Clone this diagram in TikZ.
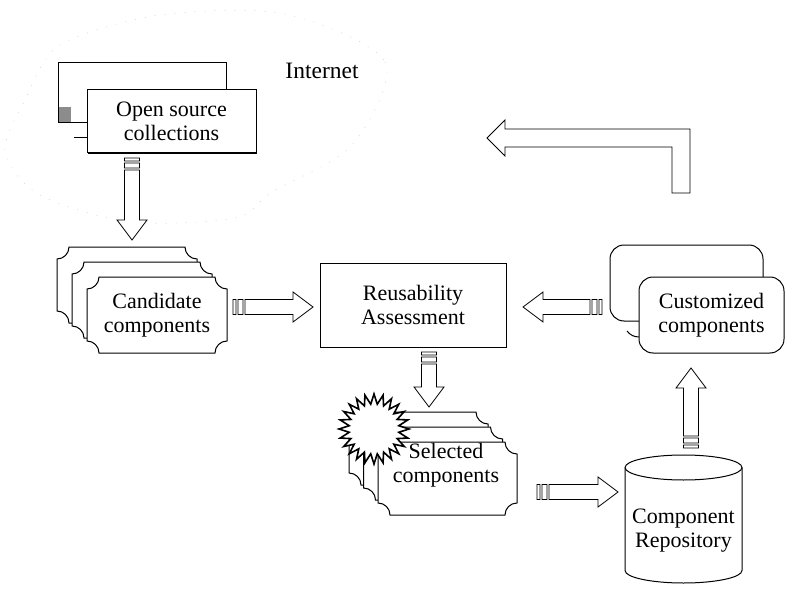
\documentclass[tikz,border=0pt]{standalone}
\usepackage{fontspec}
\setmainfont{Liberation Serif}
\usetikzlibrary{calc,shapes.geometric,shadows}

% outline with notched corners round a node
\newcommand\notch{12pt}
\newcommand\plaque[1]{%
  \draw[line width=1pt] ($(#1.north west)+(\notch,0)$) -- ($(#1.north east)+(-\notch,0)$)
    arc[start angle=180,end angle=270,radius=\notch] -- ($(#1.south east)+(0,\notch)$)
    arc[start angle=90,end angle=180,radius=\notch] -- ($(#1.south west)+(\notch,0)$)
    arc[start angle=0,end angle=90,radius=\notch] -- ($(#1.north west)+(0,-\notch)$)
    arc[start angle=-90,end angle=0,radius=\notch] -- cycle;}
% drum outline round a node
\newcommand\drum[1]{%
  \draw[fill=white,line width=1pt] ($(#1.north west)+(0,-12.5)$) -- ($(#1.south west)+(0,12.5)$)
    arc[start angle=180,end angle=360,x radius=58.5pt,y radius=12.5pt]
    -- ($(#1.north east)+(0,-12.5)$)
    arc[start angle=0,end angle=180,x radius=58.5pt,y radius=12.5pt] -- cycle;
  \draw[line width=1pt] ($(#1.north west)+(0,-12.5)$)
    arc[start angle=180,end angle=360,x radius=58.5pt,y radius=12.5pt];}

\begin{document}
\begin{tikzpicture}[x=1pt,y=1pt,
  every node/.style={font=\fontsize{22}{24}\selectfont,align=center,inner sep=0pt,outer sep=0pt},
  box/.style={draw,fill=white,line width=1pt,drop shadow={shadow xshift=0.6pt,shadow yshift=-1.2pt,opacity=1,fill=black}},
  card/.style={fill=white,minimum width=140,minimum height=76},
  rbox/.style={draw,fill=white,line width=1pt,rounded corners=14pt,minimum height=76},
  blockarrow/.style={draw,fill=white,line width=0.8pt,to path={
    let \p1=(\tikztostart),\p2=(\tikztotarget),
        \n1={atan2(\y2-\y1,\x2-\x1)},\n2={veclen(\x2-\x1,\y2-\y1)} in
    ($(\p1)+(\n1+90:7.5)$) rectangle ($(\p1)+(\n1:3)+(\n1-90:7.5)$)
    ($(\p1)+(\n1:5)+(\n1+90:7.5)$) rectangle ($(\p1)+(\n1:10)+(\n1-90:7.5)$)
    ($(\p1)+(\n1:12)+(\n1+90:7.5)$) -- ($(\p1)+(\n1:{\n2-20})+(\n1+90:7.5)$)
    -- ($(\p1)+(\n1:{\n2-20})+(\n1+90:15)$) -- (\p2)
    -- ($(\p1)+(\n1:{\n2-20})+(\n1-90:15)$) -- ($(\p1)+(\n1:{\n2-20})+(\n1-90:7.5)$)
    -- ($(\p1)+(\n1:12)+(\n1-90:7.5)$) -- cycle \tikztonodes}}]
  \useasboundingbox (0,0) rectangle (785,-591);

  % the internet cloud, barely visible
  \draw[black!18,line width=0.5pt,dash pattern=on 1pt off 9pt] plot[smooth cycle] coordinates
    {(285,-14) (385,-62) (352,-145) (272,-192) (235,-218) (130,-222) (40,-195)
     (5,-152) (25,-100) (60,-45) (160,-15)};
  \node (inet) at (322,-71) {\fontsize{23.5}{24}\selectfont Internet};

  % open source collections
  \node[draw,fill=white,line width=1pt,minimum width=168,minimum height=60] (oscback) at (142,-93) {};
  \fill[black!45] (59,-107) rectangle (71,-122);
  \node[box,minimum width=169,minimum height=63] (osc) at (171.5,-121.5) {Open source\\collections};
  \draw[line width=1pt] ($(osc.south west)+(-13,15)$) -- ($(osc.south west)+(0,15)$);

  % candidate components
  \node[card] (cand1) at (127,-285) {}; \plaque{cand1}
  \node[card] (cand2) at (142,-300) {}; \plaque{cand2}
  \node[card] (cand3) at (157,-315) {Candidate\\components}; \plaque{cand3}

  \node[box,minimum width=186,minimum height=84] (reuse) at (413,-305) {Reusability\\Assessment};

  % customized components
  \node[rbox,minimum width=153] (custback) at (686.5,-283) {};
  \draw[line width=1pt] ($(custback.south west)+(17,-10)$) to[bend right=25] ($(custback.south west)+(29,-16)$);
  \node[rbox,minimum width=145] (custfront) at (711.5,-315) {Customized\\components};

  % selected components
  \node[card,minimum width=139,minimum height=73] (sel1) at (418.5,-448.5) {}; \plaque{sel1}
  \node[card,minimum width=139,minimum height=73] (sel2) at (433,-463.5) {}; \plaque{sel2}
  \node[card,minimum width=139,minimum height=73] (sel3) at (447.5,-478.5) {}; \plaque{sel3}
  \node[star,star points=24,star point ratio=1.4,draw,fill=white,line width=1.6pt,minimum size=70] (burst) at (374,-429) {};
  \node (seltext) at (446,-465) {Selected\\components};

  % component repository
  \node[minimum width=117,minimum height=128] (repo) at (683.5,-519) {};
  \drum{repo}
  \node (repotext) at (683.5,-531) {Component\\Repository};

  % flow arrows
  \draw[blockarrow] ($(osc.south west)+(45,-5)$) to ($(cand1.north)+(5,7)$);
  \draw[blockarrow] ($(cand3.east)+(6,8)$) to ($(reuse.west)+(-7,-2)$);
  \draw[blockarrow] ($(reuse.east -| custback.west)+(-8,-2)$) to ($(reuse.east)+(17,-2)$);
  \draw[blockarrow] ($(reuse.south)+(16,-5)$) to ($(sel1.north)+(10.5,5)$);
  \draw[blockarrow] ($(sel3.east)+(20,-13.5)$) to ($(repo.west)+(-7,27)$);
  \draw[blockarrow] ($(repo.north)+(7.5,7)$) to ($(custfront.south)+(-20.5,-15)$);

  % feedback to the internet
  \draw[fill=white,line width=0.8pt] (487,-138) -- (505,-120) -- (505,-129) -- (690,-129)
    -- (690,-193) -- (672,-193) -- (672,-147) -- (505,-147) -- (505,-156) -- cycle;
\end{tikzpicture}
\end{document}
